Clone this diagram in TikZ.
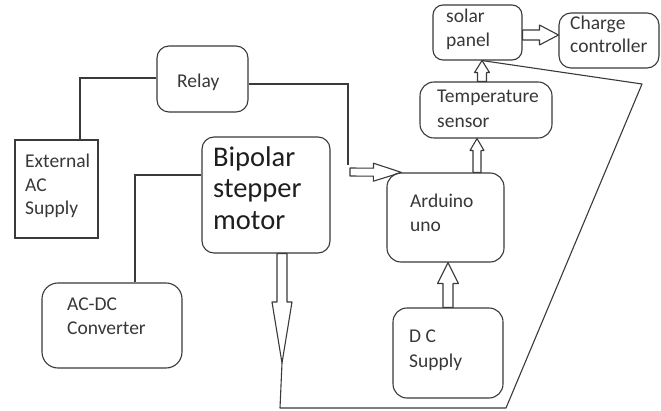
\documentclass[tikz,border=0pt]{standalone}
\usepackage{fontspec}
\setmainfont{Carlito}
\usetikzlibrary{calc}
\definecolor{ln}{HTML}{3A3A3A}
\definecolor{tx}{HTML}{383838}
\definecolor{tb}{HTML}{1E1E1E}
\tikzset{
  blk/.style={draw=ln, line width=1.1pt, inner sep=0pt, rounded corners=#1},
  blk/.default=12pt,
  sq/.style={draw=ln, line width=1.1pt, inner sep=0pt},
  lbl/.style={anchor=base west, inner sep=0pt, text=tx, font=\fontsize{19.5pt}{22pt}\selectfont},
  big/.style={anchor=base west, inner sep=0pt, text=tb, font=\fontsize{28.5pt}{32pt}\selectfont},
  wire/.style={draw=ln, line width=1.1pt},
  fat/.style={draw=ln, line width=1.1pt, line join=round}
}
% #1 start, #2 tip, #3 shaft half width, #4 head half width, #5 head length
\newcommand\fatarrow[5]{%
  \coordinate (hb) at ($(#2)!#5!(#1)$);
  \draw[fat] ($(#1)!#3!90:(#2)$) -- ($(hb)!#3!-90:(#1)$) -- ($(hb)!#4!-90:(#1)$) -- (#2)
    -- ($(hb)!#4!90:(#1)$) -- ($(hb)!#3!90:(#1)$) -- ($(#1)!#3!-90:(#2)$) -- cycle;
}
\begin{document}
\begin{tikzpicture}[x=1pt,y=-1pt]
\fill[white] (0,0) rectangle (661,411);
\useasboundingbox (0,0) rectangle (661,411);

% boxes
\node[blk=12pt, minimum width=91pt, minimum height=66pt] (relay) at (202.5,79) {};
\node[sq, minimum width=83pt, minimum height=98pt] (ext) at (56.5,189) {};
\node[blk=12pt, minimum width=128pt, minimum height=116pt] (motor) at (266,195) {};
\node[blk=16pt, minimum width=140pt, minimum height=85pt] (acdc) at (112,325.5) {};
\node[blk=14pt, minimum width=117pt, minimum height=89pt] (ard) at (445.5,217.5) {};
\node[blk=14pt, minimum width=110pt, minimum height=90pt] (dc) at (448,353) {};
\node[blk=14pt, minimum width=132pt, minimum height=56pt] (temp) at (486,110) {};
\node[blk=10pt, minimum width=89pt, minimum height=55pt] (solar) at (477.5,32.5) {};
\node[blk=12pt, minimum width=100pt, minimum height=55pt] (charge) at (609,40.5) {};

% labels
\node[lbl] (relayT) at (177,88) {Relay};
\node[lbl] (extT1) at (25,168) {External};
\node[lbl] (extT2) at (25,192) {AC};
\node[lbl] (extT3) at (25,215) {Supply};
\node[big] (motT1) at (213,167) {Bipolar};
\node[big] (motT2) at (213,198) {stepper};
\node[big] (motT3) at (213,230) {motor};
\node[lbl] (acT1) at (67,311) {AC-DC};
\node[lbl] (acT2) at (67,335) {Converter};
\node[lbl] (ardT1) at (410,208) {Arduino};
\node[lbl] (ardT2) at (410,232) {uno};
\node[lbl] (dcT1) at (409,343) {D C};
\node[lbl] (dcT2) at (409,367) {Supply};
\node[lbl] (tempT1) at (437,103) {Temperature};
\node[lbl] (tempT2) at (437,128) {sensor};
\node[lbl] (solT1) at (446,23) {solar};
\node[lbl] (solT2) at (446,47) {panel};
\node[lbl] (chT1) at (570,30) {Charge};
\node[lbl] (chT2) at (570,53) {controller};

% plain wires
\draw[wire] ([yshift=1pt]relay.west) -| ([xshift=23.5pt]ext.north);
\coordinate (rl) at (348,165);
\draw[wire] ([yshift=-5pt]relay.east) -| (rl);
\draw[wire] ([yshift=20pt]motor.west) -| ([xshift=23pt]acdc.north);

% fat arrows
\coordinate (ra) at (350,172);
\coordinate (raTip) at ([xshift=15pt]ard.north west);
\fatarrow{ra}{raTip}{4pt}{9pt}{28pt}

\coordinate (a1) at ([xshift=31.5pt]ard.north);
\coordinate (a1t) at (temp.south -| a1);
\fatarrow{a1}{a1t}{4pt}{7pt}{12pt}

\coordinate (a2t) at ([xshift=4.5pt]solar.south);
\coordinate (a2) at (temp.north -| a2t);
\fatarrow{a2}{a2t}{4.5pt}{7.5pt}{12pt}

\coordinate (a3) at ([yshift=-2.5pt]solar.east);
\coordinate (a3t) at (charge.west |- a3);
\fatarrow{a3}{a3t}{5pt}{10pt}{19pt}

\coordinate (a4t) at (ard.south -| dc.north);
\fatarrow{dc.north}{a4t}{5pt}{10.5pt}{21pt}

\coordinate (m1) at ([xshift=16pt]motor.south);
\coordinate (mt) at (282,363);
\fatarrow{m1}{mt}{5pt}{10pt}{61pt}

% loop wire
\coordinate (c1) at (642,84);
\coordinate (c2) at (506,408);
\coordinate (c3) at (280,408);
\draw[wire, line join=round] (a2t) -- (c1) -- (c2) -- (c3) -- (mt);
\end{tikzpicture}
\end{document}
